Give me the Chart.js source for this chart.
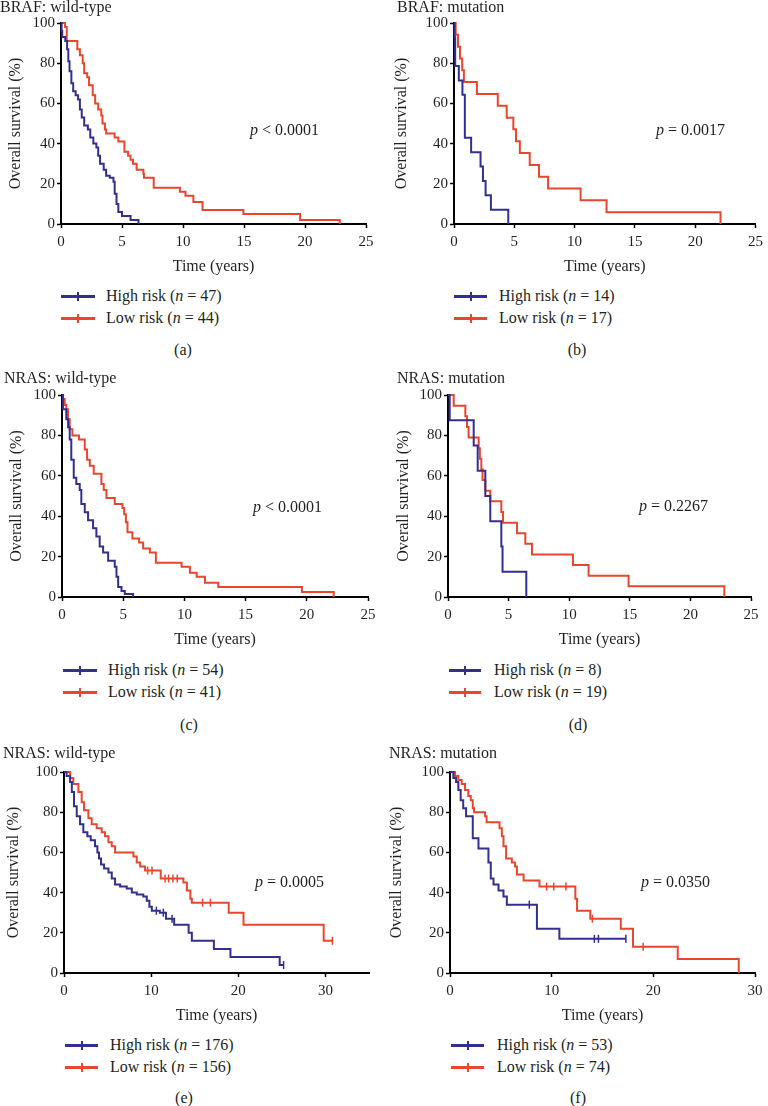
<!DOCTYPE html>
<html>
<head>
<meta charset="utf-8">
<script src="https://cdn.jsdelivr.net/npm/chart.js@4.4.1/dist/chart.umd.min.js"></script>
<style>
body { margin: 0; background: #fff; }
#page { position: relative; width: 768px; height: 1106px; font-family: "Liberation Serif", serif; color: #231f20; overflow: hidden; }
canvas { position: absolute; }
.txt { position: absolute; font-size: 16px; line-height: 20px; height: 20px; white-space: nowrap; }
.cap { transform: translateX(-50%); }
.leg-line { position: absolute; height: 3px; }
.leg-tick { position: absolute; width: 2px; height: 9px; left: 50%; top: -3px; margin-left: -1px; }
</style>
</head>
<body>
<div id="page"></div>
<script>
// --- Data ---
const panelTitles = ['BRAF: wild-type', 'BRAF: mutation', 'NRAS: wild-type', 'NRAS: mutation', 'NRAS: wild-type', 'NRAS: mutation']
const pValues = ['< 0.0001', '= 0.0017', '< 0.0001', '= 0.2267', '= 0.0005', '= 0.0350']
const highN = [47, 14, 54, 8, 176, 53]
const lowN = [44, 17, 41, 19, 156, 74]
const captions = ['(a)', '(b)', '(c)', '(d)', '(e)', '(f)']
const xMaxes = [25, 25, 25, 25, 35, 30]
const xSteps = [5, 5, 5, 5, 10, 10]

// (a) BRAF wild-type
const aHighT = [0, 0.05, 0.1, 0.35, 0.5, 0.6, 0.7, 0.85, 1.0, 1.2, 1.4, 1.55, 1.7, 1.9, 2.2, 2.4, 2.65, 2.9, 3.05, 3.2, 3.5, 3.7, 4.0, 4.3, 4.4, 4.55, 4.7, 5.0, 5.7, 6.35]
const aHighS = [100, 96, 93, 91, 87, 81, 76, 70, 66, 64, 62, 57, 53, 49, 47, 43, 40, 38, 34, 30, 27, 24, 23, 21, 15, 10, 6, 4, 2, 0]
const aLowT = [0, 0.33, 0.47, 1.34, 1.55, 1.78, 1.9, 2.15, 2.3, 2.6, 2.8, 3.05, 3.3, 3.4, 3.6, 3.7, 4.4, 4.7, 5.2, 5.5, 5.7, 5.9, 6.2, 6.75, 6.8, 7.6, 9.75, 10.2, 10.85, 11.6, 14.95, 19.6, 22.85]
const aLowS = [100, 98, 91, 87, 84, 80, 75, 73, 69, 64, 60, 57, 54, 50, 47, 45, 43, 41, 36, 34, 32, 30, 27, 25, 23, 18, 16, 14, 11, 7, 5, 2, 0]

// (b) BRAF mutation
const bHighT = [0, 0.05, 0.1, 0.4, 0.7, 0.9, 1.42, 2.2, 2.4, 2.62, 3.06, 4.5]
const bHighS = [100, 92.9, 78.6, 71.4, 64.3, 42.9, 35.7, 28.6, 21.4, 14.3, 7.1, 0]
const bLowT = [0, 0.14, 0.33, 0.5, 0.68, 0.82, 1.9, 3.63, 4.37, 4.92, 5.14, 5.46, 6.28, 7.05, 7.8, 10.5, 12.65, 22.1]
const bLowS = [100, 94.1, 88.2, 82.4, 76.5, 70.6, 64.7, 58.8, 52.9, 47.1, 41.2, 35.3, 29.4, 23.5, 17.6, 11.8, 5.9, 0]

// (c) NRAS wild-type
const cHighT = [0, 0.08, 0.35, 0.5, 0.63, 0.76, 0.96, 1.17, 1.45, 1.58, 1.86, 2.13, 2.54, 2.81, 3.08, 3.36, 3.77, 4.31, 4.45, 4.59, 4.86, 5.13, 5.81]
const cHighS = [100, 93, 88, 84, 78, 68, 59, 56, 53, 46, 42, 38, 34, 30, 25, 22, 18, 15, 10, 5, 3, 1.5, 0]
const cLowT = [0, 0.08, 0.22, 0.35, 0.49, 0.63, 0.85, 1.39, 1.86, 2.05, 2.27, 2.59, 3.22, 3.41, 3.63, 4.31, 4.94, 5.08, 5.22, 5.35, 5.75, 6.3, 6.63, 7.18, 7.67, 9.77, 10.45, 11.0, 11.68, 12.77, 19.6, 22.2]
const cLowS = [100, 98, 95, 93, 88, 83, 80, 78, 73, 68, 65, 61, 56, 53, 49, 46, 44, 41, 37, 32, 29, 27, 24, 22, 17, 15, 12, 10, 7, 5, 2.5, 0]

// (d) NRAS mutation
const dHighT = [0, 0.14, 2.12, 2.45, 3.08, 3.49, 4.4, 4.5, 6.46]
const dHighS = [100, 87.5, 75, 62.5, 50, 37.5, 25, 12.5, 0]
const dLowT = [0, 0.47, 1.43, 1.57, 1.7, 2.53, 2.63, 2.75, 2.85, 3.08, 3.49, 4.4, 4.54, 5.69, 6.38, 6.93, 10.31, 11.6, 14.9, 22.8]
const dLowS = [100, 94.7, 89.5, 84.2, 78.9, 73.7, 68.4, 63.2, 57.9, 52.6, 47.4, 42.1, 36.8, 31.6, 26.3, 21.1, 15.8, 10.5, 5.3, 0]

// (e) NRAS wild-type (larger cohort)
const eHighT = [0, 0.3, 0.7, 0.9, 1.15, 1.46, 1.84, 2.22, 2.68, 3.07, 3.56, 3.83, 4.02, 4.25, 4.6, 5.1, 5.48, 5.86, 6.44, 7.2, 7.78, 8.35, 9.1, 9.5, 9.8, 10.08, 11.0, 11.7, 12.64, 14.3, 14.67, 17.2, 19.1, 24.75, 25.2]
const eHighS = [100, 98, 95, 90, 83, 78, 74, 70, 68, 66, 63, 60, 57, 54, 52, 50, 47, 44, 43, 42, 40, 39, 38, 36, 33, 31, 30, 27, 24, 20, 16, 12, 8, 4, 4]
const eHighCens = [10.6, 11.4, 12.4, 25.2]
const eLowT = [0, 0.7, 1.07, 1.65, 2.03, 2.3, 2.8, 3.18, 3.75, 4.33, 4.71, 5.1, 5.48, 5.86, 7.97, 8.35, 8.74, 9.3, 11.1, 13.7, 14.1, 14.5, 14.67, 18.9, 20.6, 29.8, 30.8]
const eLowS = [100, 97, 94, 90, 85, 81, 77, 74, 72, 70, 68, 65, 63, 60, 58, 55, 53, 51, 47, 45, 41, 37, 35, 30, 24, 16, 16]
const eLowCens = [9.6, 10.1, 11.6, 12.0, 12.5, 13.0, 15.9, 16.8, 30.8]

// (f) NRAS mutation (larger cohort)
const fHighT = [0, 0.33, 0.6, 0.82, 1.05, 1.3, 1.58, 2.24, 2.8, 3.78, 4.01, 4.28, 4.77, 5.26, 5.59, 8.55, 10.76, 17.3]
const fHighS = [100, 97, 95, 91, 86, 82, 78, 67, 62, 55, 47, 44, 41, 38, 34, 22, 17, 17]
const fHighCens = [7.8, 14.2, 14.6, 17.3]
const fLowT = [0, 0.5, 0.82, 1.15, 1.48, 1.8, 2.04, 2.24, 2.37, 3.45, 3.6, 4.87, 5.1, 5.26, 5.52, 6.08, 6.4, 6.58, 7.24, 8.8, 12.33, 12.5, 13.8, 16.8, 18.0, 22.4, 28.4]
const fLowS = [100, 98, 96, 94, 91, 88, 86, 82, 80, 78, 75, 72, 68, 63, 57, 55, 53, 49, 46, 43, 37, 31, 27, 22, 13, 7, 0]
const fLowCens = [9.5, 10.2, 11.4, 14.0, 19.0]

// --- Layout ---
const blue = '#322f8f'
const red = '#e8462e'
const ink = '#231f20'
const fontFam = '"Liberation Serif", serif'

const panels = [
    { box: { x: 0, y: 0, w: 384, h: 280 }, area: { L: 61, T: 23, R: 366, B: 224 }, padL: 6,
      title: [0, 7], pv: [250, 130], leg: [61, 34, 106, 296, 318], cap: [183, 350],
      curves: [[aHighT, aHighS, null, blue], [aLowT, aLowS, null, red]] },
    { box: { x: 384, y: 0, w: 384, h: 280 }, area: { L: 454, T: 23, R: 759, B: 224 }, padL: 8,
      title: [397, 7], pv: [656, 130], leg: [454, 33, 499, 296, 318], cap: [577, 350],
      curves: [[bHighT, bHighS, null, blue], [bLowT, bLowS, null, red]] },
    { box: { x: 0, y: 340, w: 384, h: 313 }, area: { L: 62, T: 395, R: 368, B: 597 }, padL: 7,
      title: [4, 378], pv: [253, 507], leg: [63, 34, 108, 670, 692], cap: [189, 725],
      curves: [[cHighT, cHighS, null, blue], [cLowT, cLowS, null, red]] },
    { box: { x: 384, y: 340, w: 384, h: 313 }, area: { L: 448, T: 395, R: 751, B: 597 }, padL: 10,
      title: [397, 378], pv: [639, 506], leg: [449, 32, 494, 670, 692], cap: [578, 725],
      curves: [[dHighT, dHighS, null, blue], [dLowT, dLowS, null, red]] },
    { box: { x: 0, y: 720, w: 384, h: 309 }, area: { L: 64, T: 772, R: 369, B: 973 }, padL: 4,
      title: [3, 753], pv: [255, 882], leg: [65, 33, 110, 1045, 1067], cap: [184, 1098],
      curves: [[eHighT, eHighS, eHighCens, blue], [eLowT, eLowS, eLowCens, red]] },
    { box: { x: 384, y: 720, w: 384, h: 309 }, area: { L: 450, T: 772, R: 755, B: 973 }, padL: 3,
      title: [389, 753], pv: [641, 882], leg: [451, 33, 497, 1045, 1067], cap: [578, 1098],
      curves: [[fHighT, fHighS, fHighCens, blue], [fLowT, fLowS, fLowCens, red]] }
]

const page = document.getElementById('page')

function survAt(T, S, t) {
    let s = S[0]
    for (let i = 0; i < T.length; i++) if (T[i] <= t) s = S[i]
    return s
}

function addText(x, y, html, cls) {
    const d = document.createElement('div')
    d.className = 'txt' + (cls ? ' ' + cls : '')
    d.style.left = x + 'px'
    d.style.top = (y - 10) + 'px'
    d.innerHTML = html
    page.appendChild(d)
}

function addLegendLine(x, y, w, color) {
    const l = document.createElement('div')
    l.className = 'leg-line'
    l.style.left = x + 'px'
    l.style.top = (y - 1) + 'px'
    l.style.width = w + 'px'
    l.style.background = color
    const t = document.createElement('div')
    t.className = 'leg-tick'
    t.style.background = color
    l.appendChild(t)
    page.appendChild(l)
}

function buildPanel(p, i) {
    const cv = document.createElement('canvas')
    cv.width = p.box.w
    cv.height = p.box.h
    cv.style.left = p.box.x + 'px'
    cv.style.top = p.box.y + 'px'
    page.appendChild(cv)

    const L = p.area.L - p.box.x
    const T = p.area.T - p.box.y
    const R = p.area.R - p.box.x
    const B = p.area.B - p.box.y
    const xH = 52
    const step = xSteps[i]

    const datasets = []
    p.curves.forEach(c => {
        const [ct, cs, cens, color] = c
        // KM curve: hold value until next event time, then drop
        datasets.push({
            type: 'line',
            data: ct.map((t, k) => ({ x: t, y: cs[k] })),
            stepped: 'before',
            borderColor: color,
            borderWidth: 2,
            pointRadius: 0,
            fill: false,
            clip: 4
        })
        if (cens) {
            datasets.push({
                type: 'scatter',
                data: cens.map(t => ({ x: t, y: survAt(ct, cs, t) })),
                pointStyle: 'line',
                pointRotation: 90,
                pointRadius: 4,
                pointBorderColor: color,
                pointBorderWidth: 1.5,
                clip: 6
            })
        }
    })

    const tickFont = { family: fontFam, size: 15 }
    const titleFont = { family: fontFam, size: 16 }

    new Chart(cv, {
        type: 'line',
        data: { datasets },
        options: {
            responsive: false,
            animation: false,
            devicePixelRatio: 1,
            layout: { padding: { left: p.padL, top: T, right: p.box.w - R, bottom: p.box.h - B - xH } },
            plugins: { legend: { display: false }, tooltip: { enabled: false } },
            scales: {
                x: {
                    type: 'linear', min: 0, max: xMaxes[i],
                    afterFit: s => { s.height = xH },
                    afterBuildTicks: s => { s.ticks = s.ticks.filter(t => t.value % step === 0) },
                    ticks: { stepSize: step, font: tickFont, color: ink, padding: 5, maxRotation: 0 },
                    grid: { drawOnChartArea: false, drawTicks: true, tickLength: 4, tickWidth: 1.5, tickColor: '#000' },
                    border: { display: true, color: '#000', width: 2 },
                    title: { display: true, text: 'Time (years)', font: titleFont, color: ink, padding: 0 }
                },
                y: {
                    min: 0, max: 100,
                    afterFit: s => { s.width = L - p.padL },
                    ticks: { stepSize: 20, font: tickFont, color: ink, padding: 2 },
                    grid: { drawOnChartArea: false, drawTicks: true, tickLength: 4, tickWidth: 1.5, tickColor: '#000' },
                    border: { display: true, color: '#000', width: 2 },
                    title: { display: true, text: 'Overall survival (%)', font: titleFont, color: ink, padding: 0 }
                }
            }
        }
    })

    // texts
    addText(p.title[0], p.title[1], panelTitles[i])
    addText(p.pv[0], p.pv[1], '<i>p</i> ' + pValues[i])
    const [lx, lw, tx, y1, y2] = p.leg
    addLegendLine(lx, y1, lw, blue)
    addLegendLine(lx, y2, lw, red)
    addText(tx, y1, 'High risk (<i>n</i> = ' + highN[i] + ')')
    addText(tx, y2, 'Low risk (<i>n</i> = ' + lowN[i] + ')')
    addText(p.cap[0], p.cap[1], captions[i], 'cap')
}

panels.forEach(buildPanel)
</script>
</body>
</html>
